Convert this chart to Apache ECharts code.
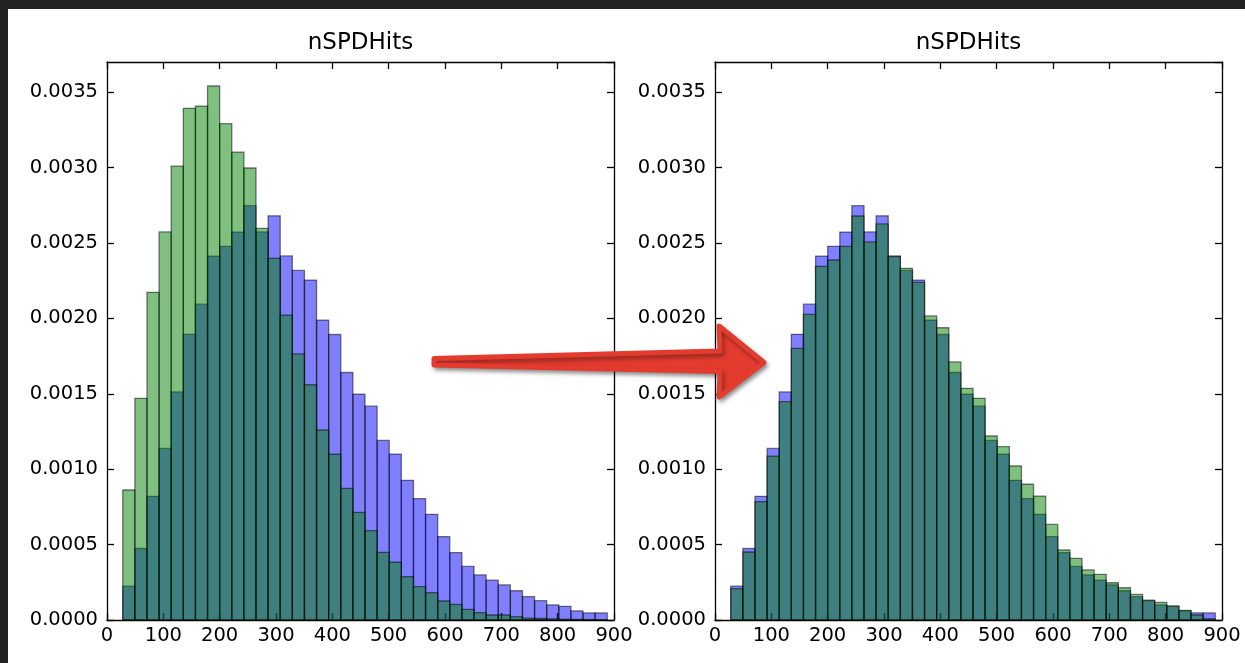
<!DOCTYPE html>
<html>
<head>
<meta charset="utf-8">
<script src="https://cdn.jsdelivr.net/npm/echarts@6/dist/echarts.min.js"></script>
<style>
html,body{margin:0;padding:0;background:#fff;}
#chart{width:1245px;height:663px;}
</style>
</head>
<body>
<div id="chart"></div>
<script>
// ---- data ----
var titles = ['nSPDHits', 'nSPDHits'];
var binEdges = [28, 49.5, 71, 92.5, 114, 135.5, 157, 178.5, 200, 221.5, 243, 264.5, 286, 307.5, 329, 350.5,
  372, 393.5, 415, 436.5, 458, 479.5, 501, 522.5, 544, 565.5, 587, 608.5, 630, 651.5, 673, 694.5,
  716, 737.5, 759, 780.5, 802, 823.5, 845, 866.5, 888];
var blueValues = [0.000225, 0.000474, 0.00082, 0.001138, 0.001512, 0.001894, 0.002094, 0.002413, 0.002478, 0.002572,
  0.002747, 0.002573, 0.00268, 0.002414, 0.002318, 0.002254, 0.001989, 0.001893, 0.001641, 0.001497,
  0.001418, 0.001191, 0.0011, 0.000926, 0.000805, 0.000701, 0.000553, 0.000447, 0.000355, 0.000299,
  0.000264, 0.000233, 0.000194, 0.000155, 0.000128, 0.0001, 0.000091, 0.000061, 0.000047, 0.000047];
var greenLeft = [0.000862, 0.00147, 0.002173, 0.002573, 0.00301, 0.003393, 0.003408, 0.003541, 0.003291, 0.003103,
  0.002997, 0.002597, 0.002398, 0.002022, 0.001764, 0.00156, 0.00126, 0.001099, 0.000873, 0.000714,
  0.000592, 0.000449, 0.000383, 0.000287, 0.000221, 0.000181, 0.000126, 0.000104, 0.000071, 0.000049,
  0.000033, 0.000033, 0.000022, 0.000013, 0.00001, 0.000008, 0.000005, 0.000004, 0.000003, 0.000002];
var greenRight = [0.000208, 0.000451, 0.000785, 0.001087, 0.001448, 0.001801, 0.002027, 0.002345, 0.002387, 0.002478,
  0.002679, 0.002507, 0.002626, 0.00241, 0.002332, 0.002239, 0.002016, 0.001938, 0.001711, 0.001536,
  0.00147, 0.00122, 0.001149, 0.001021, 0.0009, 0.000822, 0.000634, 0.000464, 0.000409, 0.000332,
  0.000303, 0.000247, 0.000214, 0.00017, 0.000132, 0.000117, 0.000093, 0.000064, 0.000033, 0.000008];
var xTicks = [0, 100, 200, 300, 400, 500, 600, 700, 800, 900];
var yTicks = [0, 0.0005, 0.001, 0.0015, 0.002, 0.0025, 0.003, 0.0035];

// ---- build ----
function toBins(values) {
  return values.map(function (v, i) { return [binEdges[i], binEdges[i + 1], v]; });
}
function histRender(fill) {
  return function (params, api) {
    var a = api.coord([api.value(0), api.value(2)]);
    var b = api.coord([api.value(1), 0]);
    return {
      type: 'rect',
      shape: { x: a[0], y: a[1], width: b[0] - a[0], height: b[1] - a[1] },
      style: { fill: fill, stroke: 'rgba(0,0,0,0.5)', lineWidth: 1.3 }
    };
  };
}
var FONT = 'DejaVu Sans';
var xMin = xTicks[0], xMax = xTicks[xTicks.length - 1], xStep = xTicks[1] - xTicks[0];
var yMin = yTicks[0], yStep = yTicks[1] - yTicks[0], yMax = 0.0037;
var lineStyle = { color: '#000', width: 1.3 };

function xAxisDef(grid, pos, labels) {
  return {
    type: 'value', gridIndex: grid, position: pos, min: xMin, max: xMax, interval: xStep,
    axisLine: { show: true, onZero: false, lineStyle: lineStyle },
    axisTick: { show: true, inside: true, length: 7, lineStyle: lineStyle },
    splitLine: { show: false },
    axisLabel: { show: labels, color: '#000', fontFamily: FONT, fontSize: 19.5, margin: 6 }
  };
}
function yAxisDef(grid, pos, labels) {
  return {
    type: 'value', gridIndex: grid, position: pos, min: yMin, max: yMax, interval: yStep,
    axisLine: { show: true, onZero: false, lineStyle: lineStyle },
    axisTick: { show: true, inside: true, length: 7, lineStyle: lineStyle },
    splitLine: { show: false },
    axisLabel: {
      show: labels, color: '#000', fontFamily: FONT, fontSize: 19.5, margin: 9, showMaxLabel: false,
      formatter: function (v) {
        var k = Math.round(v / yStep);
        if (Math.abs(k * yStep - v) > 1e-9) return '';
        return v.toFixed(4);
      }
    }
  };
}

var BLUE = 'rgba(0,0,255,0.5)';
var GREEN = 'rgba(0,128,0,0.5)';

var option = {
  backgroundColor: '#fff',
  animation: false,
  title: [
    { text: titles[0], left: 360.5, top: 30, textAlign: 'left', padding: 0,
      textStyle: { fontFamily: FONT, fontSize: 23, fontWeight: 'normal', color: '#000', lineHeight: 26 } },
    { text: titles[1], left: 968.5, top: 30, textAlign: 'left', padding: 0,
      textStyle: { fontFamily: FONT, fontSize: 23, fontWeight: 'normal', color: '#000', lineHeight: 26 } }
  ],
  grid: [
    { left: 107, top: 62, width: 507, height: 558, containLabel: false },
    { left: 715, top: 62, width: 507, height: 558, containLabel: false }
  ],
  xAxis: [xAxisDef(0, 'bottom', true), xAxisDef(0, 'top', false), xAxisDef(1, 'bottom', true), xAxisDef(1, 'top', false)],
  yAxis: [yAxisDef(0, 'left', true), yAxisDef(0, 'right', false), yAxisDef(1, 'left', true), yAxisDef(1, 'right', false)],
  series: [
    { type: 'custom', xAxisIndex: 0, yAxisIndex: 0, renderItem: histRender(BLUE), encode: { x: [0, 1], y: 2 }, data: toBins(blueValues), z: 2 },
    { type: 'custom', xAxisIndex: 0, yAxisIndex: 0, renderItem: histRender(GREEN), encode: { x: [0, 1], y: 2 }, data: toBins(greenLeft), z: 3 },
    { type: 'custom', xAxisIndex: 2, yAxisIndex: 2, renderItem: histRender(BLUE), encode: { x: [0, 1], y: 2 }, data: toBins(blueValues), z: 2 },
    { type: 'custom', xAxisIndex: 2, yAxisIndex: 2, renderItem: histRender(GREEN), encode: { x: [0, 1], y: 2 }, data: toBins(greenRight), z: 3 }
  ],
  graphic: [
    { type: 'rect', left: 0, top: 0, shape: { width: 1245, height: 9 }, style: { fill: '#222' }, z: 100 },
    { type: 'rect', left: 0, top: 0, shape: { width: 8, height: 663 }, style: { fill: '#222' }, z: 100 },
    { type: 'polygon', z: 110,
      shape: { points: [[434, 358.5], [720, 351], [719, 326], [764, 362.5], [719, 397], [720, 371.5], [434, 365]] },
      style: { fill: '#e33b2e', stroke: '#e33b2e', lineWidth: 5, lineJoin: 'round',
        shadowColor: 'rgba(0,0,0,0.35)', shadowBlur: 4, shadowOffsetX: 2, shadowOffsetY: 3 } }
  ]
};
// center titles over the grids
option.title[0].textAlign = 'center';
option.title[1].textAlign = 'center';

var chart = echarts.init(document.getElementById('chart'), null, { renderer: 'canvas' });
chart.setOption(option);
</script>
</body>
</html>
